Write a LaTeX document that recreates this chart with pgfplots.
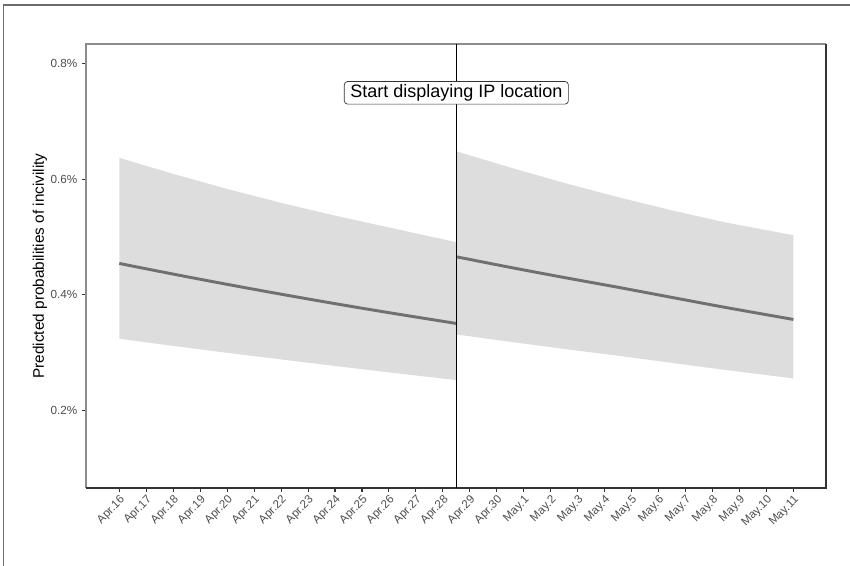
\documentclass[border=0pt]{standalone}
\usepackage{pgfplots}
\pgfplotsset{compat=1.18}
\usepackage{fontspec}
\setmainfont{Liberation Sans}
\definecolor{bandgray}{HTML}{DDDDDD}
\definecolor{linegray}{HTML}{707070}
\definecolor{tickgray}{HTML}{4D4D4D}
\definecolor{darkline}{HTML}{333333}
\definecolor{lightline}{HTML}{8C8C8C}
\begin{document}
\begin{tikzpicture}[x=1pt,y=1pt]
\useasboundingbox (0,0) rectangle (637.5,424.5);
\draw[line width=1.1pt, color=gray!85!black] (2.6,0) -- (2.6,420.9) -- (637.5,420.9);
\begin{axis}[
  at={(64.5pt,58.5pt)}, anchor=south west,
  width=555pt, height=333pt, scale only axis,
  xmin=-1.235, xmax=26.21, ymin=0.0667, ymax=0.8333,
  axis line style={draw=none},
  tick pos=left, tick align=outside,
  major tick length=3pt,
  tick style={color=darkline, line width=0.8pt},
  xtick={0,...,25},
  xticklabels={Apr.16,Apr.17,Apr.18,Apr.19,Apr.20,Apr.21,Apr.22,Apr.23,Apr.24,Apr.25,Apr.26,Apr.27,Apr.28,Apr.29,Apr.30,May.1,May.2,May.3,May.4,May.5,May.6,May.7,May.8,May.9,May.10,May.11},
  ytick={0.2,0.4,0.6,0.8},
  yticklabels={0.2\%,0.4\%,0.6\%,0.8\%},
  /pgf/number format/assume math mode=true,
  x tick label style={rotate=45, anchor=north east, font=\fontsize{8.7}{10}\selectfont, text=tickgray, inner sep=1.2pt},
  y tick label style={font=\fontsize{8.8}{10}\selectfont, text=tickgray},
  ylabel={Predicted probabilities of incivility},
  every axis y label/.style={at={(axis description cs:-0.0622,0.5)}, rotate=90, anchor=center, font=\fontsize{11.5}{13}\selectfont},
  clip=false,
]
% left band
\addplot[fill=bandgray, draw=none] coordinates {
 (0,0.6368) (2,0.6090) (4,0.5830) (6,0.5590) (8,0.5370) (10,0.5165) (12.5,0.4911)
 (12.5,0.2530) (10,0.2663) (8,0.2773) (6,0.2887) (4,0.3001) (2,0.3120) (0,0.3244)
} -- cycle;
% right band
\addplot[fill=bandgray, draw=none] coordinates {
 (12.5,0.6481) (14.5,0.6200) (16.5,0.5935) (18.5,0.5688) (20.5,0.5460) (22.5,0.5250) (25,0.5032)
 (25,0.2559) (22.5,0.2703) (20.5,0.2827) (18.5,0.2950) (16.5,0.3068) (14.5,0.3191) (12.5,0.3318)
} -- cycle;
% fitted lines
\addplot[linegray, line width=2.2pt, smooth] coordinates {
 (0,0.4544) (2,0.4360) (4,0.4183) (6,0.4013) (8,0.3850) (10,0.3694) (12.5,0.3508)
};
\addplot[linegray, line width=2.2pt, smooth] coordinates {
 (12.5,0.4659) (14.5,0.4476) (16.5,0.4301) (18.5,0.4132) (20.5,0.3957) (22.5,0.3783) (25,0.3577)
};
% axis frame
\draw[lightline, line width=0.8pt] (rel axis cs:0,0) -- (rel axis cs:0,1) -- (rel axis cs:1,1);
\draw[darkline, line width=0.9pt] (rel axis cs:0,0) -- (rel axis cs:1,0) -- (rel axis cs:1,1);
% vertical marker
\addplot[black, line width=0.9pt] coordinates {(12.5,0.0667) (12.5,0.8333)};
\node[draw=darkline, fill=white, rounded corners=2.5pt, inner xsep=4.5pt, inner ysep=2.2pt, line width=0.5pt, font=\fontsize{13.5}{15}\selectfont] at (axis cs:12.5,0.749) {Start displaying IP location};
\end{axis}
\end{tikzpicture}
\end{document}
